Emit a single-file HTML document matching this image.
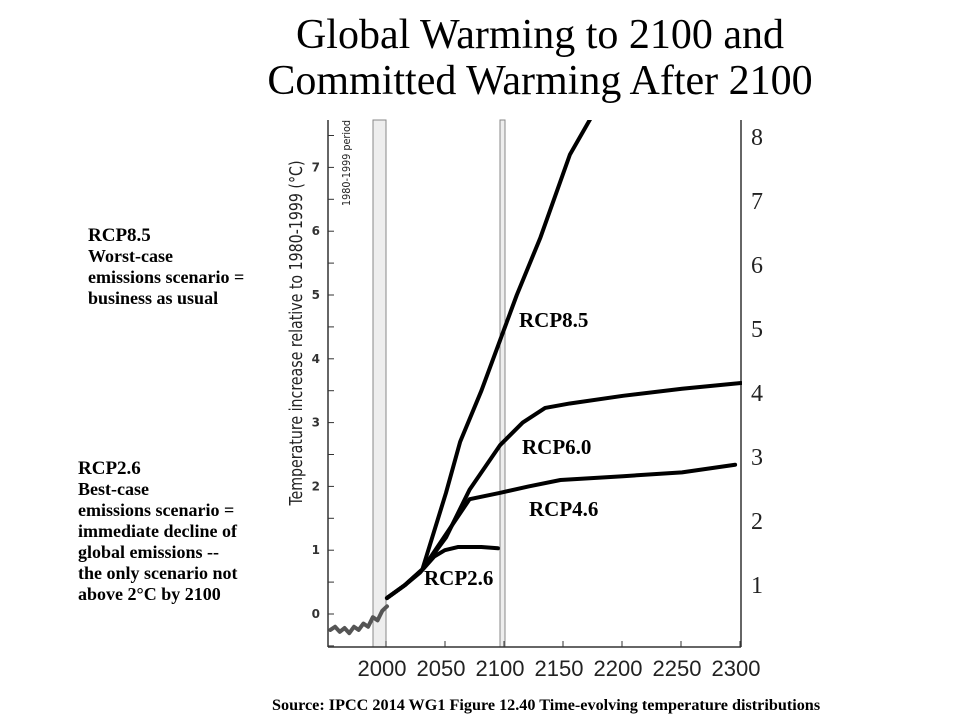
<!DOCTYPE html>
<html><head><meta charset="utf-8"><style>
body{margin:0;background:#fff;width:960px;height:720px;overflow:hidden;font-family:"Liberation Serif",serif}
.t{position:absolute;margin:0}
</style></head><body>
<div class="t" style="left:140px;width:800px;top:12px;text-align:center;font-size:42px;line-height:46px">Global Warming to 2100 and<br>Committed Warming After 2100</div>
<div class="t" style="left:88px;top:225px;font-weight:bold;font-size:18px;line-height:21px"><span style="font-size:19px">RCP8.5</span><br>Worst-case<br>emissions scenario =<br>business as usual</div>
<div class="t" style="left:78px;top:458px;font-weight:bold;font-size:18px;line-height:21px"><span style="font-size:19px">RCP2.6</span><br>Best-case<br>emissions scenario =<br>immediate decline of<br>global emissions --<br>the only scenario not<br>above 2°C by 2100</div>
<div class="t" style="left:272px;top:696px;font-weight:bold;font-size:16.2px;white-space:nowrap">Source: IPCC 2014 WG1 Figure 12.40 Time-evolving temperature distributions</div>
<svg id="c" width="960" height="720" style="position:absolute;left:0;top:0"></svg>
<script>
const xTickYears=[2000,2050,2100,2150,2200,2250,2300];
const yTickVals=[0,1,2,3,4,5,6,7];
const rightTickLabels=["1","2","3","4","5","6","7","8"];
const histYears=[1952,1956,1960,1964,1968,1972,1976,1980,1984,1988,1992,1996,2000];
const histVals=[-0.25,-0.2,-0.28,-0.22,-0.3,-0.2,-0.25,-0.15,-0.2,-0.05,-0.1,0.05,0.12];
const years85=[2000,2015,2030,2050,2062,2080,2096,2110,2130,2155,2172,2185];
const vals85=[0.25,0.45,0.7,1.9,2.7,3.5,4.3,5.0,5.9,7.2,7.75,8.2];
const years60=[2000,2015,2030,2050,2070,2096,2115,2134,2155,2200,2250,2300];
const vals60=[0.25,0.45,0.7,1.2,1.95,2.65,3.0,3.23,3.3,3.42,3.53,3.62];
const years45=[2000,2015,2030,2050,2070,2096,2120,2147,2200,2250,2295];
const vals45=[0.25,0.45,0.7,1.25,1.8,1.9,2.0,2.1,2.16,2.22,2.34];
const years26=[2000,2015,2028,2040,2049,2060,2080,2094];
const vals26=[0.25,0.45,0.65,0.9,1.0,1.05,1.05,1.03];
const X=y=>387+(y-2000)*1.18, Y=v=>614-63.8*v;
const s=document.getElementById('c'),NS='http://www.w3.org/2000/svg';
function el(t,a,p){const e=document.createElementNS(NS,t);for(const k in a)e.setAttribute(k,a[k]);(p||s).appendChild(e);return e;}
const clip=el('clipPath',{id:'cp'});el('rect',{x:262,y:120,width:480,height:520},clip);
let b1=el('rect',{x:373,y:120,width:13,height:527,fill:'#eee',stroke:'#888','stroke-width':1});


let b2=el('rect',{x:500,y:120,width:5,height:527,fill:'#eee',stroke:'#888','stroke-width':1});


let ya=el('line',{x1:328,y1:120,x2:328,y2:647,stroke:'#333','stroke-width':1.5});


let xa=el('line',{x1:328,y1:647,x2:741,y2:647,stroke:'#333','stroke-width':1.5});


let ra=el('line',{x1:741,y1:120,x2:741,y2:647,stroke:'#333','stroke-width':1.5});


for(let v=-0.5;v<=7.5;v+=0.5){el('line',{x1:328,y1:Y(v),x2:334,y2:Y(v),stroke:'#333','stroke-width':1});}
yTickVals.forEach(v=>{const t=el('text',{x:320,y:Y(v)+4,'text-anchor':'end','font-size':12,'font-family':'DejaVu Sans, sans-serif','font-weight':'bold',fill:'#333'});t.textContent=v;

});
xTickYears.forEach(yr=>{el('line',{x1:X(yr)-1,y1:641,x2:X(yr)-1,y2:647,stroke:'#333'});const t=el('text',{x:X(yr)-5,y:676,'text-anchor':'middle','font-size':22,'font-family':'Liberation Sans, sans-serif',fill:'#222'});t.textContent=yr;

});
rightTickLabels.forEach((l,i)=>{const t=el('text',{x:751,y:593-64*i,'font-size':24,'font-family':'Liberation Serif, serif',fill:'#222'});t.textContent=l;

});
let yt=el('text',{transform:'translate(302,333) rotate(-90)','text-anchor':'middle','font-size':18,'font-family':'DejaVu Sans Condensed, DejaVu Sans, sans-serif',fill:'#222',textLength:345,lengthAdjust:'spacingAndGlyphs'});yt.textContent='Temperature increase relative to 1980-1999 (°C)';


let pt=el('text',{transform:'translate(350,163) rotate(-90)','text-anchor':'middle','font-size':11,'font-family':'DejaVu Sans Condensed, sans-serif',fill:'#222',textLength:86,lengthAdjust:'spacingAndGlyphs'});pt.textContent='1980-1999 period';


function line(xs,vs,name,w,col){const p=el('polyline',{points:xs.map((x,i)=>X(x)+','+Y(vs[i])).join(' '),fill:'none',stroke:col,'stroke-width':w,'stroke-linejoin':'round','stroke-linecap':'round','clip-path':'url(#cp)'});

}
line(histYears,histVals,'historical-line',4,'#555');
line(years85,vals85,'rcp85-line',4,'#000');
line(years60,vals60,'rcp60-line',4,'#000');
line(years45,vals45,'rcp45-line',4,'#000');
line(years26,vals26,'rcp26-line',4,'#000');
[['RCP8.5',519,327,'rcp85-label'],['RCP6.0',522,454,'rcp60-label'],['RCP4.6',529,516,'rcp45-label'],['RCP2.6',424,585,'rcp26-label']].forEach(a=>{const t=el('text',{x:a[1],y:a[2],'font-size':21,'font-weight':'bold','font-family':'Liberation Serif, serif'});t.textContent=a[0];

});
</script>
</body></html>
